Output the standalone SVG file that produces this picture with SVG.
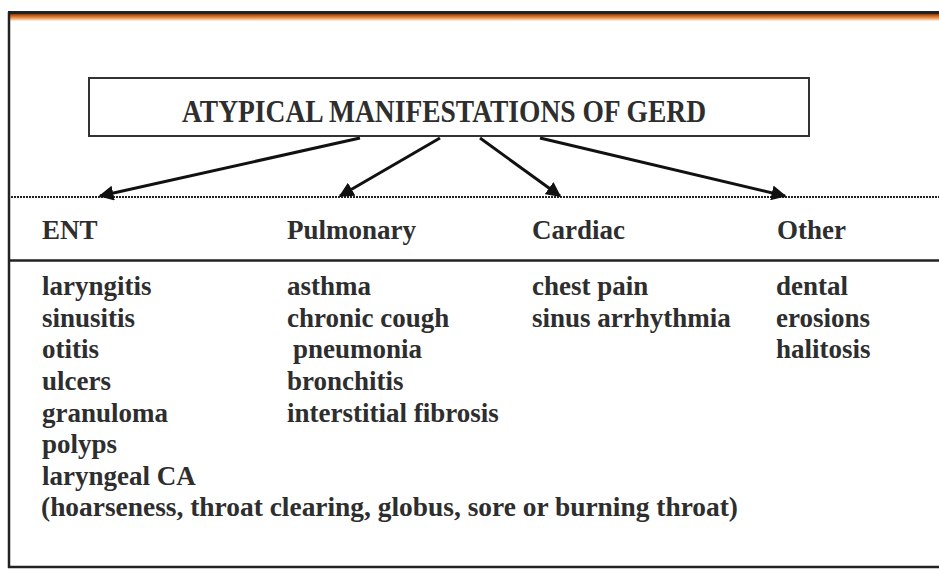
<svg xmlns="http://www.w3.org/2000/svg" width="939" height="570" viewBox="0 0 939 570">
<defs>
<linearGradient id="topbar" x1="0" y1="0" x2="0" y2="1">
<stop offset="0" stop-color="#5a2a08"/>
<stop offset="0.35" stop-color="#c8601a"/>
<stop offset="0.7" stop-color="#f3a868"/>
<stop offset="1" stop-color="#fff6ee"/>
</linearGradient>
<marker id="arr" viewBox="0 0 10 10" refX="9" refY="5" markerWidth="5" markerHeight="5" orient="auto" markerUnits="strokeWidth">
<path d="M0,0 L10,5 L0,10 z" fill="#111"/>
</marker>
<style>
.t{font-family:"Liberation Serif","Times New Roman",serif;font-weight:bold;fill:#2e2e2e;}
.title{font-size:31px;}
.h{font-size:27px;}
.c{font-size:27px;}
.ln{stroke:#222;fill:none;}
.conn{stroke:#111;stroke-width:3;fill:none;marker-end:url(#arr);}
</style>
</defs>
<rect x="0" y="0" width="939" height="570" fill="#fff"/>
<g id="frame">
<rect x="8" y="13" width="931" height="8" fill="url(#topbar)"/>
<line class="ln" x1="8" y1="12.5" x2="939" y2="12.5" stroke-width="3"/>
<line class="ln" x1="9" y1="12" x2="9" y2="568" stroke-width="2.5"/>
<line class="ln" x1="8" y1="567" x2="939" y2="567" stroke-width="2.5"/>
<line class="ln" x1="8" y1="197" x2="939" y2="197" stroke-width="2" stroke-dasharray="2 1"/>
<line class="ln" x1="8" y1="260.5" x2="939" y2="260.5" stroke-width="2.5"/>
</g>
<g id="title">
<rect x="89" y="78" width="720" height="58" fill="#fff" stroke="#333" stroke-width="2"/>
<text class="t title" x="444" y="122" text-anchor="middle" textLength="524" lengthAdjust="spacingAndGlyphs">ATYPICAL MANIFESTATIONS OF GERD</text>
</g>
<g id="connectors">
<line class="conn" x1="360" y1="138" x2="100" y2="196"/>
<line class="conn" x1="440" y1="138" x2="340" y2="196"/>
<line class="conn" x1="480" y1="138" x2="560" y2="196"/>
<line class="conn" x1="540" y1="138" x2="785" y2="196"/>
</g>
<g id="ent">
<text class="t h" x="42" y="239">ENT</text>
<text class="t c" x="42" y="295">laryngitis</text>
<text class="t c" x="42" y="327">sinusitis</text>
<text class="t c" x="42" y="358">otitis</text>
<text class="t c" x="42" y="390">ulcers</text>
<text class="t c" x="42" y="422">granuloma</text>
<text class="t c" x="42" y="453">polyps</text>
<text class="t c" x="42" y="485">laryngeal CA</text>
<text class="t c" x="41" y="516" textLength="697" lengthAdjust="spacingAndGlyphs">(hoarseness, throat clearing, globus, sore or burning throat)</text>
</g>
<g id="pulmonary">
<text class="t h" x="287" y="239">Pulmonary</text>
<text class="t c" x="287" y="295">asthma</text>
<text class="t c" x="287" y="327">chronic cough</text>
<text class="t c" x="293" y="358">pneumonia</text>
<text class="t c" x="287" y="390">bronchitis</text>
<text class="t c" x="287" y="422">interstitial fibrosis</text>
</g>
<g id="cardiac">
<text class="t h" x="532" y="239">Cardiac</text>
<text class="t c" x="532" y="295">chest pain</text>
<text class="t c" x="532" y="327">sinus arrhythmia</text>
</g>
<g id="other">
<text class="t h" x="777" y="239">Other</text>
<text class="t c" x="776" y="295">dental</text>
<text class="t c" x="776" y="327">erosions</text>
<text class="t c" x="776" y="358">halitosis</text>
</g>
</svg>
